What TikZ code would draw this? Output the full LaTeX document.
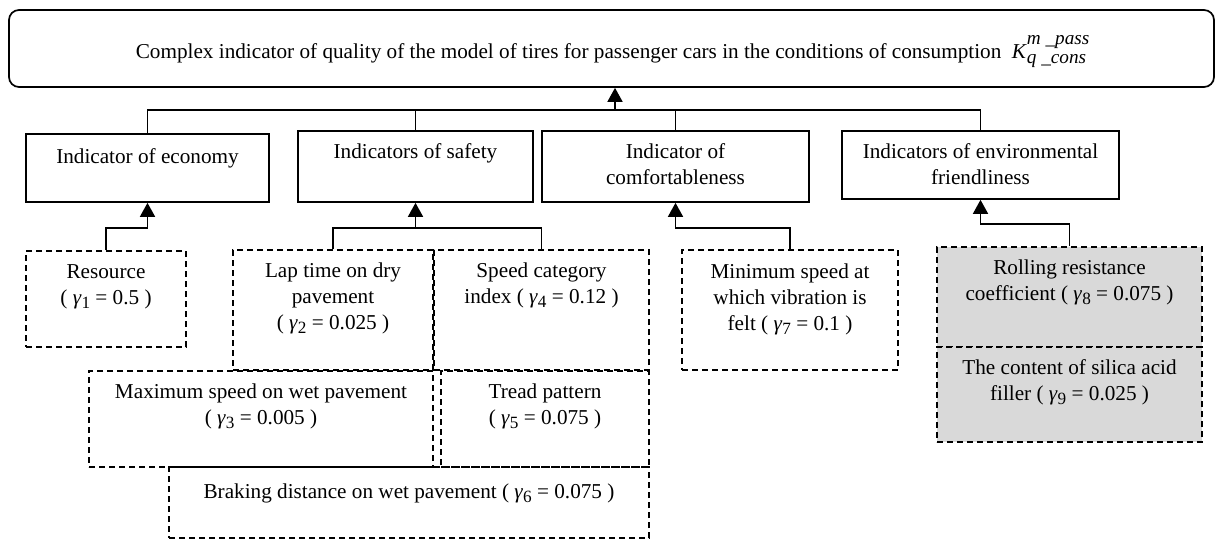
\documentclass[tikz,border=0pt]{standalone}
\usepackage{fontspec}
\usepackage{amsmath}
\setmainfont{Liberation Serif}
\usetikzlibrary{arrows.meta,fit,calc}
\newcommand\gmw[2]{( \textit{γ}\raisebox{-2.2pt}{\fontsize{8.6}{8.6}\selectfont #1} = #2 )}
\newcommand\kformula{\textit{K}\rlap{\raisebox{6.8pt}{\fontsize{9.6}{9.6}\selectfont\itshape m \_pass}}\raisebox{-2.6pt}{\fontsize{9.6}{9.6}\selectfont\itshape q \_cons}}
\begin{document}
\begin{tikzpicture}[x=0.5pt,y=-0.5pt,
  solidbox/.style={draw, line width=0.85pt, inner sep=0pt},
  dashbox/.style={draw, line width=0.85pt, inner sep=0pt, dash pattern=on 3pt off 2pt},
  grayfill/.style={fill=black!15},
  lbl/.style={align=center, inner sep=0pt, anchor=north, font=\fontsize{10.6}{12.8}\selectfont},
  conn/.style={line width=0.85pt},
  arr/.style={line width=0.85pt, -{Triangle[width=7.5pt,length=7pt]}}]
\useasboundingbox (0,0) rectangle (1215,541);
% top box
\node[solidbox, rounded corners=5pt, fit={(9,10)(1214,87)}] (top) {};
\node[inner sep=0pt, anchor=base, font=\fontsize{10.6}{12.8}\selectfont] (toptxt) at (611,58)
  {Complex indicator of quality of the model of tires for passenger cars in the conditions of consumption\ \ \kformula};
% level 2
\node[solidbox, fit={(26,134)(269,202)}] (econ) {};
\node[solidbox, fit={(298,131)(533,202)}] (safe) {};
\node[solidbox, fit={(542,131)(809,202)}] (comf) {};
\node[solidbox, fit={(842,131)(1119,199)}] (env) {};
\node[lbl] (econT) at ($(econ.north)+(0,12)$) {\strut Indicator of economy};
\node[lbl] (safeT) at ($(safe.north)+(0,10.5)$) {\strut Indicators of safety};
\node[lbl] (comfT) at ($(comf.north)+(0,10.5)$) {\strut Indicator of\\comfortableness};
\node[lbl] (envT) at ($(env.north)+(0,10.5)$) {\strut Indicators of environmental\\friendliness};
% level 3
\node[dashbox, fit={(26,251)(186,347)}] (res) {};
\node[dashbox, fit={(233,250)(433,370)}] (lap) {};
\node[dashbox, fit={(434,250)(649,370)}] (spd) {};
\node[dashbox, fit={(89,371)(433,467)}] (maxw) {};
\node[dashbox, fit={(441,371)(649,467)}] (tread) {};
\node[dashbox, fit={(169,467)(649,538)}] (brake) {};
\node[dashbox, fit={(682,250)(898,370)}] (minv) {};
\node[dashbox, grayfill, fit={(937,247)(1202,347)}] (roll) {};
\node[dashbox, grayfill, fit={(937,347)(1202,442)}] (sil) {};
\node[lbl] (resT) at ($(res.north)+(0,10.5)$) {\strut Resource\\\gmw{1}{0.5}};
\node[lbl] (lapT) at ($(lap.north)+(0,10.5)$) {\strut Lap time on dry\\pavement\\\gmw{2}{0.025}};
\node[lbl] (spdT) at ($(spd.north)+(0,10.5)$) {\strut Speed category\\index \gmw{4}{0.12}};
\node[lbl] (maxwT) at ($(maxw.north)+(0,10.5)$) {\strut Maximum speed on wet pavement\\\gmw{3}{0.005}};
\node[lbl] (treadT) at ($(tread.north)+(0,10.5)$) {\strut Tread pattern\\\gmw{5}{0.075}};
\node[lbl] (brakeT) at ($(brake.north)+(0,14)$) {\strut Braking distance on wet pavement \gmw{6}{0.075}};
\node[lbl] (minvT) at ($(minv.north)+(0,11.5)$) {\strut Minimum speed at\\which vibration is\\felt \gmw{7}{0.1}};
\node[lbl] (rollT) at ($(roll.north)+(0,10.5)$) {\strut Rolling resistance\\coefficient \gmw{8}{0.075}};
\node[lbl] (silT) at ($(sil.north)+(0,10.5)$) {\strut The content of silica acid\\filler \gmw{9}{0.025}};
% connectors upper level
\coordinate (bus) at (615,110);
\draw[conn] (econ.north) |- (bus);
\draw[conn] (env.north) |- (bus);
\draw[conn] (safe.north) -- (safe.north |- bus);
\draw[conn] (comf.north) -- (comf.north |- bus);
\draw[arr] (bus) -- (bus |- top.south);
% connectors lower level
\coordinate (ej) at ($(econ.south)+(0,25)$);
\draw[arr] (res.north) |- (ej) -- (econ.south);
\coordinate (sj) at ($(safe.south)+(0,25)$);
\draw[conn] (lap.north) |- (sj) -| (spd.north);
\draw[arr] (sj) -- (safe.south);
\coordinate (cj) at ($(comf.south)+(0,25)$);
\draw[arr] (minv.north) |- (cj) -- (comf.south);
\coordinate (vj) at ($(env.south)+(0,24)$);
\draw[arr] (roll.north) |- (vj) -- (env.south);
\end{tikzpicture}
\end{document}
